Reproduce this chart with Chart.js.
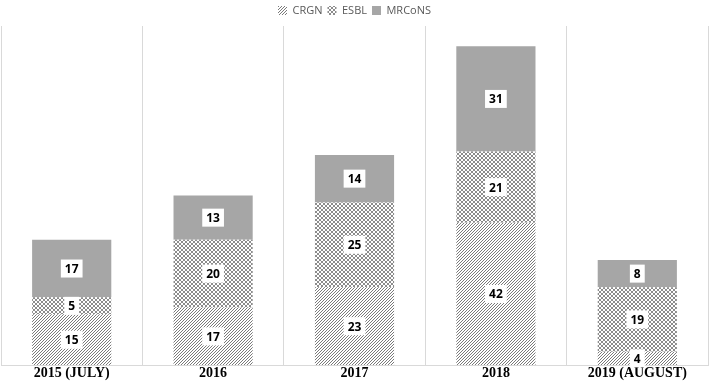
<!DOCTYPE html>
<html>
<head>
<meta charset="utf-8">
<script src="https://cdn.jsdelivr.net/npm/chart.js@4"></script>
<style>
  body { margin: 0; background: #fff; }
</style>
</head>
<body>
<canvas id="myChart" width="709" height="382"></canvas>
<script>
// data
var years = ['2015 (JULY)', '2016', '2017', '2018', '2019 (AUGUST)'];
var crgn = [15, 17, 23, 42, 4];
var esbl = [5, 20, 25, 21, 19];
var mrcons = [17, 13, 14, 31, 8];

// small pixel tiles, like the office hatch fills
function tile(size, pixels, color) {
    var c = document.createElement('canvas');
    c.width = size; c.height = size;
    var g = c.getContext('2d');
    g.fillStyle = '#ffffff';
    g.fillRect(0, 0, size, size);
    g.fillStyle = color;
    pixels.forEach(function(p) { g.fillRect(p[0], p[1], 1, 1); });
    return g.createPattern(c, 'repeat');
}

var diagFill = tile(3, [[0, 2], [1, 1], [2, 0]], '#7a7a7a');
var crossFill = tile(4, [[0, 0], [1, 1], [2, 2], [3, 3], [3, 0], [2, 1], [1, 2], [0, 3]], '#8c8c8c');

// white boxes with the values in the middle of each segment
var boxLabels = {
    id: 'boxLabels',
    afterDatasetsDraw: function(chart) {
        var ctx = chart.ctx;
        ctx.save();
        ctx.font = 'bold 12px "Open Sans", sans-serif';
        ctx.textAlign = 'center';
        ctx.textBaseline = 'middle';
        chart.data.datasets.forEach(function(ds, i) {
            var meta = chart.getDatasetMeta(i);
            meta.data.forEach(function(bar, j) {
                var txt = String(ds.data[j]);
                var cy = (bar.y + bar.base) / 2;
                var w = ctx.measureText(txt).width + 8;
                var h = 18;
                ctx.fillStyle = '#ffffff';
                ctx.fillRect(bar.x - w / 2, cy - h / 2, w, h);
                ctx.fillStyle = '#000000';
                ctx.fillText(txt, bar.x, cy + 1);
            });
        });
        ctx.restore();
    }
};

var ctx = document.getElementById('myChart').getContext('2d');
var chart = new Chart(ctx, {
    type: 'bar',
    data: {
        labels: years,
        datasets: [{
            label: 'CRGN',
            backgroundColor: diagFill,
            data: crgn
        }, {
            label: 'ESBL',
            backgroundColor: crossFill,
            data: esbl
        }, {
            label: 'MRCoNS',
            backgroundColor: '#a6a6a6',
            data: mrcons
        }]
    },
    options: {
        responsive: false,
        animation: false,
        categoryPercentage: 1,
        barPercentage: 0.56,
        layout: { padding: { left: 1, right: 1, top: 0, bottom: 0 } },
        plugins: {
            legend: {
                position: 'top',
                labels: {
                    boxWidth: 9,
                    boxHeight: 9,
                    padding: 5,
                    color: '#595959',
                    font: { family: '"Open Sans", sans-serif', size: 11 }
                }
            },
            tooltip: { enabled: false }
        },
        scales: {
            x: {
                stacked: true,
                grid: { color: '#d9d9d9', drawTicks: false, tickLength: 0, offset: true },
                border: { color: '#d9d9d9' },
                ticks: {
                    padding: 0,
                    color: '#000000',
                    font: { family: '"Liberation Serif", serif', size: 14, weight: 'bold' }
                }
            },
            y: {
                stacked: true,
                display: false,
                min: 0,
                max: 100
            }
        }
    },
    plugins: [boxLabels]
});
</script>
</body>
</html>
